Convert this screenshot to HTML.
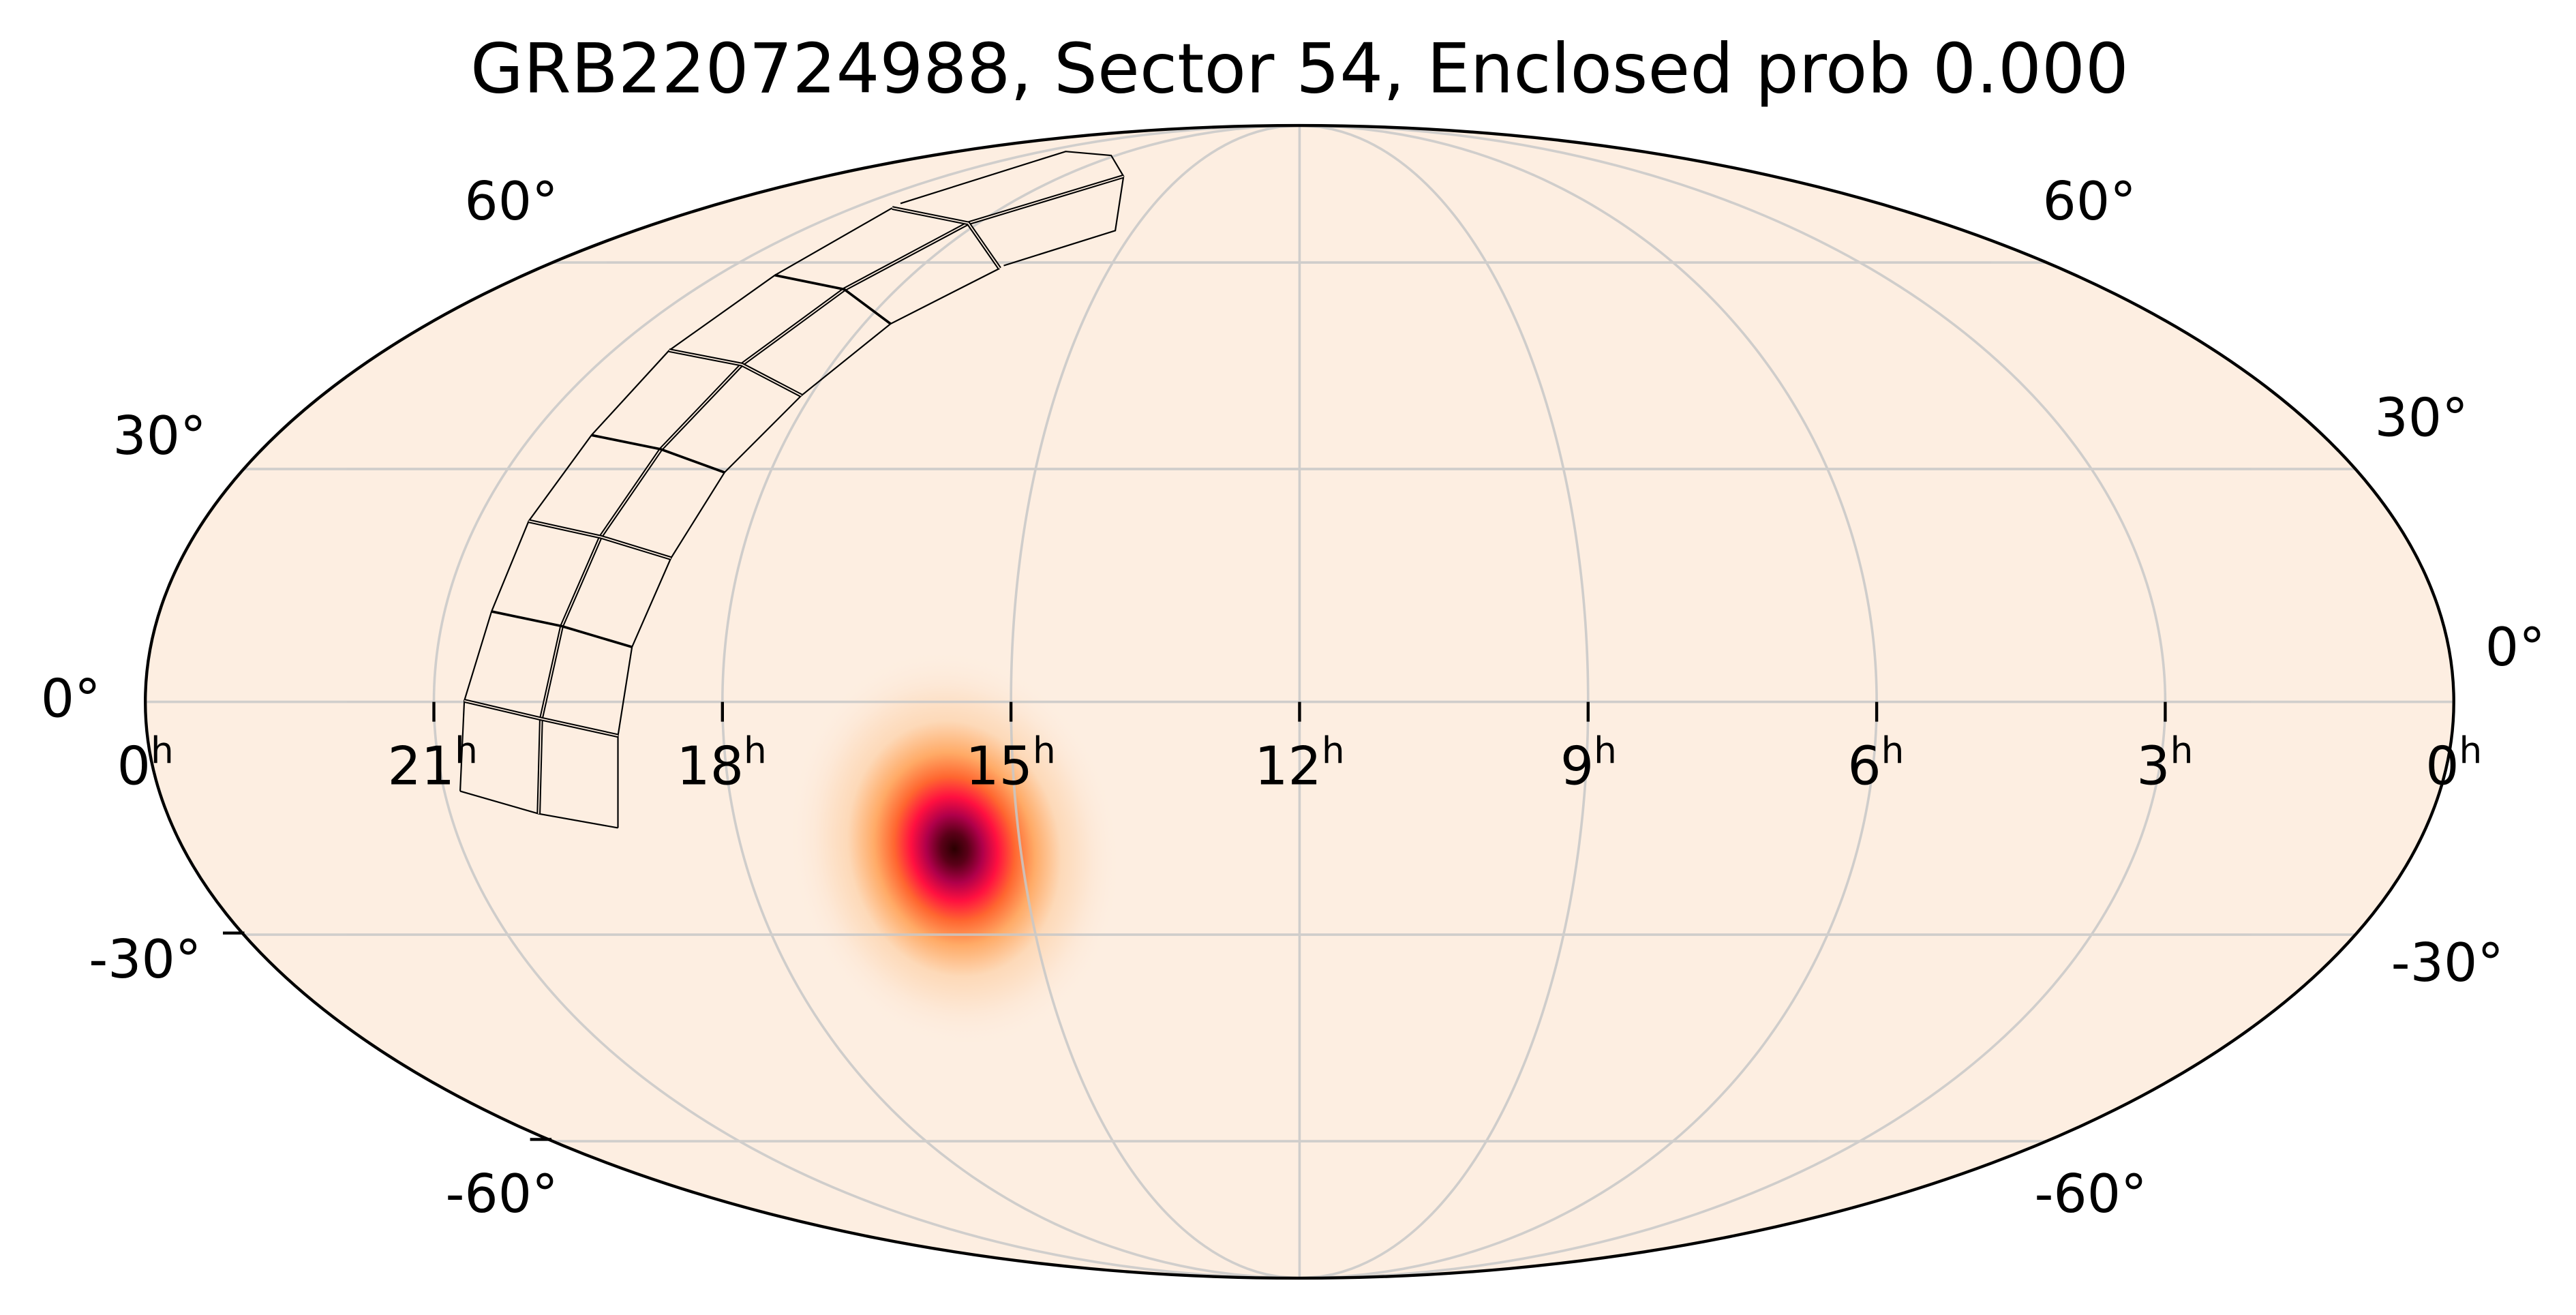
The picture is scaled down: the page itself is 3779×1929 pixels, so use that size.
<!DOCTYPE html>
<html><head><meta charset="utf-8"><style>
html,body{margin:0;padding:0;background:#fff;}
svg{display:block;}
text{font-family:"DejaVu Sans","Liberation Sans",sans-serif;fill:#000;}
</style></head><body>
<svg id="s" width="3779" height="1929" viewBox="0 0 1560 796.3" xmlns="http://www.w3.org/2000/svg">
<defs>
<radialGradient id="g" cx="0.5" cy="0.5" r="0.5">
<stop offset="0" stop-color="#2a0000"/>
<stop offset="0.08" stop-color="#5a0018"/>
<stop offset="0.17" stop-color="#b0004a"/>
<stop offset="0.26" stop-color="#ff1040"/>
<stop offset="0.36" stop-color="#ff6630"/>
<stop offset="0.48" stop-color="#ffaa66"/>
<stop offset="0.64" stop-color="#fdd9b8"/>
<stop offset="0.82" stop-color="#fde8d6"/>
<stop offset="1" stop-color="#fdeee1" stop-opacity="0"/>
</radialGradient>
<clipPath id="cp"><ellipse cx="787" cy="425" rx="699" ry="349"/></clipPath>
</defs>
<text x="787" y="56" font-size="41.5" text-anchor="middle">GRB220724988, Sector 54, Enclosed prob 0.000</text>
<ellipse cx="787" cy="425" rx="699" ry="349" fill="#fdeee1"/>
<g clip-path="url(#cp)">
<ellipse cx="578" cy="514" rx="100" ry="122" fill="url(#g)" transform="rotate(-12 578 514)"/>
<g id="grid" fill="none" stroke="#c8c8c8" stroke-width="1.5" opacity="0.85"></g>
</g>
<g id="fp" fill="none" stroke="#000" stroke-width="0.9"></g>
<ellipse cx="787" cy="425" rx="699" ry="349" fill="none" stroke="#000" stroke-width="1.8"/>
<g id="ticks" stroke="#000" stroke-width="1.8"></g>
<g font-size="32" id="rl"></g>
<g font-size="32">
<text x="338" y="133" text-anchor="end">60°</text>
<text x="125" y="275" text-anchor="end">30°</text>
<text x="61" y="434" text-anchor="end">0°</text>
<text x="122" y="592" text-anchor="end">-30°</text>
<text x="338" y="734" text-anchor="end">-60°</text>
<text x="1237" y="133">60°</text>
<text x="1438" y="264">30°</text>
<text x="1505" y="403">0°</text>
<text x="1448" y="594">-30°</text>
<text x="1232" y="734">-60°</text>
</g>
</svg>
<script>
var NS="http://www.w3.org/2000/svg",cx=787,cy=425,a=699,b=349;
function th(phi){var t=phi;for(var i=0;i<50;i++){var f=2*t+Math.sin(2*t)-Math.PI*Math.sin(phi);var d=2+2*Math.cos(2*t);if(Math.abs(d)<1e-9)break;t-=f/d;}return t;}
function P(ra,dec){var phi=dec*Math.PI/180,t=th(phi),lf=(ra-12)/12;return [cx-a*lf*Math.cos(t),cy-b*Math.sin(t)];}
function pl(g,pts,extra){var e=document.createElementNS(NS,"polyline");e.setAttribute("points",pts.map(function(p){return p[0].toFixed(2)+","+p[1].toFixed(2)}).join(" "));if(extra)for(var k in extra)e.setAttribute(k,extra[k]);g.appendChild(e);}
var grid=document.getElementById("grid");
[30,60,0,-30,-60].forEach(function(d){pl(grid,[P(0.0001,d),P(23.9999,d)]);});
[3,6,9,12,15,18,21].forEach(function(r){var pts=[];for(var d=-90;d<=90;d+=1)pts.push(P(r,d));pl(grid,pts);});
var tk=document.getElementById("ticks");
[3,6,9,12,15,18,21].forEach(function(r){var p=P(r,0);pl(tk,[[p[0],425],[p[0],437]]);});
pl(tk,[[135,565],[148,565]]);pl(tk,[[321,690],[334,690]]);
var rl=document.getElementById("rl");
[["0",88],["21",262],["18",437],["15",612],["12",787],["9",962],["6",1136],["3",1311],["0",1486]].forEach(function(l){
 var t=document.createElementNS(NS,"text");t.setAttribute("x",l[1]);t.setAttribute("y",475);t.setAttribute("text-anchor","middle");
 t.appendChild(document.createTextNode(l[0]));var sp=document.createElementNS(NS,"tspan");sp.setAttribute("font-size","22");sp.setAttribute("dy","-13");sp.textContent="h";t.appendChild(sp);rl.appendChild(t);});
var fp=document.getElementById("fp");
function D(l){return l.map(function(p){return [p[0]*0.5003,p[1]*0.3422]});}
function dbl(pts){pl(fp,D(pts),{"stroke-width":"2.4"});pl(fp,D(pts),{"stroke":"#fdeee1","stroke-width":"0.7"});}
pl(fp,D([[557,1400],[562,1240],[595,1082],[640,922],[716,770],[810,620],[938,487],[1080,368]]));
pl(fp,D([[1090,360],[1290,268],[1345,275],[1360,312],[1350,408],[1215,470]]));
pl(fp,D([[748,1465],[748,1302],[765,1145],[812,988],[877,836],[970,700],[1078,573],[1210,475]]));
pl(fp,D([[557,1400],[652,1440],[748,1465]]));
dbl([[652,1440],[655,1272],[680,1108],[727,950],[800,795],[898,645],[1022,512],[1172,395],[1360,312]]);
var rows=[[[562,1240],[655,1272],[748,1302]],[[595,1082],[680,1108],[765,1145]],[[640,922],[727,950],[812,988]],[[716,770],[800,795],[877,836]],[[810,620],[898,645],[970,700]],[[938,487],[1022,512],[1078,573]],[[1080,368],[1172,395],[1210,475]]];
rows.forEach(function(r,i){if(i%2==0)dbl(r);else pl(fp,D(r),{"stroke-width":"1.5"});});
</script>
</body></html>
